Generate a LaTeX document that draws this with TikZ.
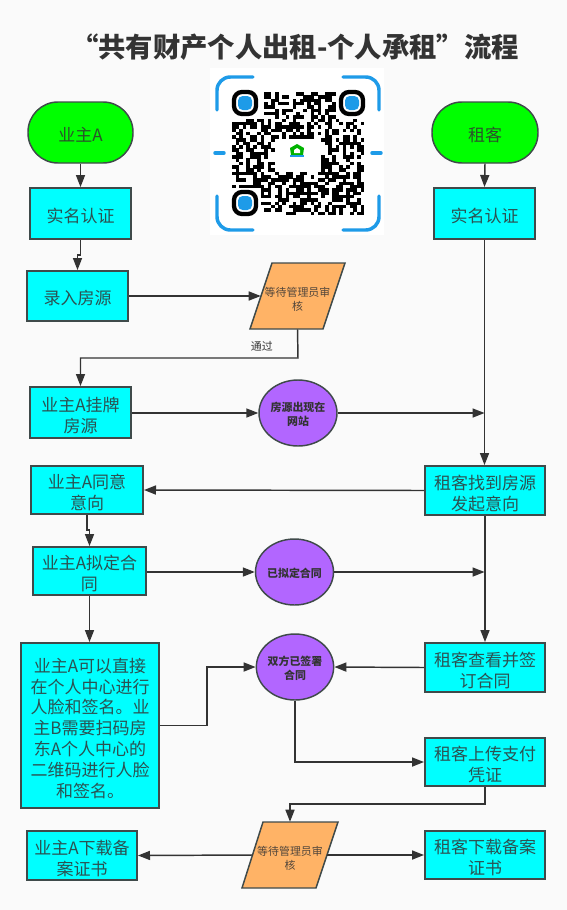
\documentclass[tikz,border=0pt]{standalone}
\usepackage{fontspec}
\setmainfont{Noto Sans CJK SC}
\usetikzlibrary{arrows.meta,calc,shapes.geometric}
\newdimen\px \px=0.75pt
\newcommand\lowT[2]{\raisebox{-#1}[\height][\depth]{\begin{tabular}{@{}c@{}}#2\end{tabular}}}
\definecolor{bgc}{HTML}{FAFAFA}
\definecolor{ink}{HTML}{333333}
\definecolor{edgec}{HTML}{3F4A4A}
\definecolor{cy}{HTML}{00FFFF}
\definecolor{gr}{HTML}{00FF00}
\definecolor{org}{HTML}{FFB366}
\definecolor{pur}{HTML}{B266FF}
\definecolor{qrblue}{HTML}{1E9BE8}
\tikzset{
  x=0.75pt,y=-0.75pt,
  box/.style={draw=edgec,line width=1.5pt,fill=cy,inner sep=0pt,text=ink!85!cy,font=\fontsize{12.75pt}{15.6pt}\selectfont},
  term/.style={draw=edgec,line width=1.1pt,fill=gr,rounded corners=22.5pt,inner sep=0pt,text=ink!85!gr,font=\fontsize{12.75pt}{15.6pt}\selectfont},
  oval/.style={shape=ellipse,draw=edgec,line width=1.1pt,fill=pur,inner sep=0pt,text=ink,font=\fontsize{8.2pt}{10.4pt}\selectfont\bfseries},
  paraedge/.style={draw=edgec,line width=1.1pt,fill=org,line join=miter},
  paratext/.style={inner sep=0pt,text=ink!85!org,font=\fontsize{8.2pt}{10pt}\selectfont},
  conn/.style={draw=ink,line width=1.1pt,-{Triangle[length=9pt,width=6.8pt]}},
  qrstroke/.style={draw=qrblue,line width=2.6pt,line cap=round},
  finder/.style={draw=black,line width=3.2pt,rounded corners=6pt},
  finderc/.style={fill=qrblue,rounded corners=3.5pt},
}
\begin{document}
\begin{tikzpicture}
\useasboundingbox (0,0) rectangle (567,910);
\fill[bgc] (0,0) rectangle (567,910);

% title
\node[text=ink,font=\fontsize{20.5pt}{24pt}\selectfont\bfseries] (title) at (295,47) {“共有财产个人出租-个人承租”流程};

% QR image
\fill[white] (210,68) rectangle (384,235);
\draw[qrstroke,rounded corners=10pt] (217,110) -- (217,77) -- (253,77);
\draw[qrstroke,rounded corners=10pt] (343,77) -- (379,77) -- (379,110);
\draw[qrstroke,rounded corners=10pt] (217,196) -- (217,230) -- (253,230);
\draw[qrstroke,rounded corners=10pt] (343,230) -- (379,230) -- (379,196);
\draw[qrstroke] (215,153) -- (224,153);
\draw[qrstroke] (372,153) -- (381,153);
\pgfmathsetseed{4711}
\foreach \r in {0,...,36}{
  \foreach \c in {0,...,36}{
    \pgfmathrandominteger{\v}{0}{9}
    \pgfmathtruncatemacro{\skip}{(\c<8&&\r<8)||(\c>28&&\r<8)||(\c<8&&\r>28)||(\c>11&&\c<25&&\r>13&&\r<24)?1:0}
    \ifnum\skip=0
      \ifnum\v<5
        \fill[black] ({232+\c*3.57},{92+\r*3.32}) rectangle ++(3.7,3.5);
      \fi
    \fi
  }
}
\foreach \fx/\fy in {245/103,352/103,245/203}{
  \draw[finder] (\fx-11,\fy-11) rectangle (\fx+11,\fy+11);
  \fill[finderc] (\fx-7,\fy-7) rectangle (\fx+7,\fy+7);
}
% QR logo
\fill[green!70!black] (297,144) -- (304,148) -- (303,155) -- (291,155) -- (290,148) -- cycle;
\fill[white] (297,148) -- (300,150) -- (300,153) -- (294,153) -- (294,150) -- cycle;
\fill[qrblue] (290,155) rectangle (304,157);

% left column
\node[term,minimum width=105\px,minimum height=61\px] (ownerA) at (80.5,132.5) {\lowT{3.8pt}{业主A}};
\node[box,minimum width=101\px,minimum height=51\px] (authL) at (80.5,213.5) {\lowT{3.8pt}{实名认证}};
\node[box,minimum width=101\px,minimum height=50\px] (enter) at (77.5,296) {\lowT{3.4pt}{录入房源}};
\node[box,minimum width=101\px,minimum height=51\px] (list) at (80.5,412.5) {\lowT{3.8pt}{业主A挂牌\\房源}};
\node[box,minimum width=112\px,minimum height=48\px] (agree) at (87,490) {\lowT{3.8pt}{业主A同意\\意向}};
\node[box,minimum width=113\px,minimum height=48\px] (draft) at (89.5,571) {\lowT{3.8pt}{业主A拟定合\\同}};
\node[box,minimum width=138\px,minimum height=165\px] (sign) at (90,725.5) {\lowT{3.8pt}{业主A可以直接\\在个人中心进行\\人脸和签名。业\\主B需要扫码房\\东A个人中心的\\二维码进行人脸\\和签名。}};
\node[box,minimum width=110\px,minimum height=49\px] (dlA) at (82,855.5) {\lowT{3.8pt}{业主A下载备\\案证书}};

% right column
\node[term,minimum width=106\px,minimum height=61\px] (tenant) at (485,132.5) {\lowT{3.8pt}{租客}};
\node[box,minimum width=101\px,minimum height=51\px] (authR) at (484.5,213.5) {\lowT{3.8pt}{实名认证}};
\node[box,minimum width=120\px,minimum height=49\px] (find) at (485,490.5) {\lowT{3.8pt}{租客找到房源\\发起意向}};
\node[box,minimum width=120\px,minimum height=49\px] (view) at (485,667.5) {\lowT{3.8pt}{租客查看并签\\订合同}};
\node[box,minimum width=120\px,minimum height=48\px] (pay) at (485,762) {\lowT{3.8pt}{租客上传支付\\凭证}};
\node[box,minimum width=120\px,minimum height=48\px] (dlT) at (485,855) {\lowT{3.8pt}{租客下载备案\\证书}};

% ovals
\node[oval,minimum width=78\px,minimum height=66\px] (site) at (298,413) {\lowT{2pt}{房源出现在\\网站}};
\node[oval,minimum width=78\px,minimum height=66\px] (drafted) at (294.5,572) {\lowT{2pt}{已拟定合同}};
\node[oval,minimum width=77\px,minimum height=66\px] (signed) at (295,667) {\lowT{2pt}{双方已签署\\合同}};

% parallelograms
\path[paraedge] (272,263) -- (345,263) -- (323,329) -- (250,329) -- cycle;
\node[paratext,minimum width=73\px,minimum height=66\px] (rev1) at (297.5,296) {\lowT{3.6pt}{等待管理员审\\核}};
\path[paraedge] (263,822) -- (338,822) -- (316,888) -- (242,888) -- cycle;
\node[paratext,minimum width=74\px,minimum height=66\px] (rev2) at (290,855) {\lowT{3.6pt}{等待管理员审\\核}};

% routing helpers
\coordinate (j1) at (80.5,255);
\coordinate (j2) at (77.5,255);
\coordinate (j3) at (87,530);
\coordinate (j4) at (89.5,530);
\coordinate (trunk1) at (authR.south |- site.east);
\coordinate (trunk2) at (authR.south |- drafted.east);
\coordinate (j5) at (298,358);
\coordinate (j6) at (207,725.5);
\coordinate (j7) at (295,762);
\coordinate (j8) at (485,804);

% connectors
\draw[conn] (ownerA.south) -- (authL.north);
\draw[conn] (authL.south) -- (j1) -- (j2) -- (enter.north);
\draw[conn] (enter.east) -- (rev1.west);
\draw[conn] (rev1.south) -- (j5) -| (list.north) node[pos=0.083,above,draw=none,text=ink,font=\fontsize{8.2pt}{9pt}\selectfont,yshift=1.5pt] (passed) {通过};
\draw[conn] (list.east |- site.west) -- (site.west);
\draw[conn] (site.east) -- (trunk1);
\draw[conn] (authR.south) -- (authR.south |- find.north);
\draw[conn] (tenant.south) -- (authR.north);
\draw[conn] (find.west) -- (agree.east);
\draw[conn] (agree.south) -- (j3) -- (j4) -- (draft.north);
\draw[conn] (draft.east |- drafted.west) -- (drafted.west);
\draw[conn] (drafted.east) -- (trunk2);
\draw[conn] (find.south) -- (view.north);
\draw[conn] (draft.south) -- (draft.south |- sign.north);
\draw[conn] (sign.east) -- (j6) |- (signed.west);
\draw[conn] (view.west) -- (signed.east);
\draw[conn] (signed.south) -- (j7) -- (pay.west);
\draw[conn] (pay.south) -- (j8) -| (rev2.north);
\draw[conn] (rev2.east) -- (dlT.west);
\draw[conn] (rev2.west) -- (dlA.east);
\end{tikzpicture}
\end{document}
